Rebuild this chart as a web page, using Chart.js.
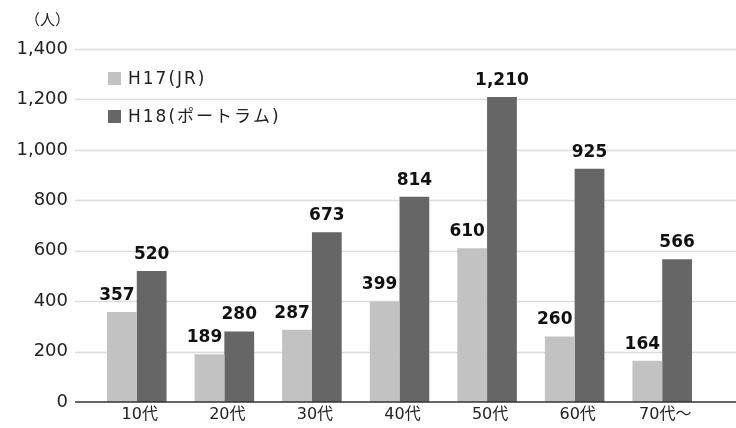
<!DOCTYPE html>
<html>
<head>
<meta charset="utf-8">
<title>年代別利用者数</title>
<script src="https://cdn.jsdelivr.net/npm/chart.js@4"></script>
<style>
  html, body { margin: 0; padding: 0; background: #fff; }
  #wrap { position: relative; width: 736px; height: 428px; }
  #myChart { display: block; }
  #unit { position: absolute; left: 25px; top: 8px; font: 15px "Noto Sans CJK JP", sans-serif; color: #222; }
</style>
</head>
<body>
<div id="wrap">
  <div id="unit">（人）</div>
  <canvas id="myChart" width="736" height="428"></canvas>
</div>
<script>
// data
const ageGroups = ["10代", "20代", "30代", "40代", "50代", "60代", "70代～"];
const h17Values = [357, 189, 287, 399, 610, 260, 164];
const h18Values = [520, 280, 673, 814, 1210, 925, 566];
const seriesNames = ["H17(JR)", "H18(ポートラム)"];
const yTicks = [0, 200, 400, 600, 800, 1000, 1200, 1400];

const FONT = '"DejaVu Sans", "Noto Sans CJK JP", sans-serif';

// axes are hidden so the plot box is set only by the padding;
// gridlines, tick labels, value labels and legend are drawn here
const drawPlugin = {
  id: 'drawExtras',
  beforeDatasetsDraw(chart) {
    const ctx = chart.ctx, y = chart.scales.y, x = chart.scales.x;
    const left = chart.chartArea.left - 18;
    ctx.save();
    ctx.strokeStyle = '#dcdcdc';
    ctx.lineWidth = 1.5;
    yTicks.forEach(v => {
      if (v === 0) return;
      const py = Math.round(y.getPixelForValue(v)) + 0.5;
      ctx.beginPath();
      ctx.moveTo(left, py);
      ctx.lineTo(chart.width, py);
      ctx.stroke();
    });
    // y tick labels
    ctx.fillStyle = '#222';
    ctx.font = '18px ' + FONT;
    ctx.textAlign = 'right';
    ctx.textBaseline = 'middle';
    yTicks.forEach(v => {
      ctx.fillText(v.toLocaleString('en-US'), left - 7, y.getPixelForValue(v));
    });
    // x tick labels
    ctx.font = '16px ' + FONT;
    ctx.textAlign = 'center';
    ageGroups.forEach((lab, i) => {
      ctx.fillText(lab, x.getPixelForTick(i) + 3, chart.chartArea.bottom + 13);
    });
    ctx.restore();
  },
  afterDatasetsDraw(chart) {
    const ctx = chart.ctx, y = chart.scales.y;
    ctx.save();
    // zero line
    const py0 = y.getPixelForValue(0);
    ctx.strokeStyle = '#333';
    ctx.lineWidth = 1.5;
    ctx.beginPath();
    ctx.moveTo(chart.chartArea.left - 18, py0);
    ctx.lineTo(chart.width, py0);
    ctx.stroke();

    // value labels over the bars
    ctx.fillStyle = '#111';
    ctx.font = 'bold 17px ' + FONT;
    ctx.textAlign = 'center';
    ctx.textBaseline = 'bottom';
    chart.data.datasets.forEach((ds, i) => {
      chart.getDatasetMeta(i).data.forEach((bar, j) => {
        ctx.fillText(ds.data[j].toLocaleString('en-US'), bar.x - (i === 0 ? 5 : 0), bar.y - 8);
      });
    });

    // legend inside the plot
    ctx.font = '17px ' + FONT;
    ctx.textAlign = 'left';
    ctx.textBaseline = 'middle';
    ctx.letterSpacing = '2px';
    chart.data.datasets.forEach((ds, i) => {
      const top = 72 + i * 38;
      ctx.fillStyle = ds.backgroundColor;
      ctx.fillRect(108, top, 13, 13);
      ctx.fillStyle = '#222';
      ctx.fillText(ds.label, 128, top + 8);
    });
    ctx.restore();
  }
};

function doChart() {
  const ctx = document.getElementById('myChart').getContext('2d');
  new Chart(ctx, {
    type: 'bar',
    data: {
      labels: ageGroups,
      datasets: [
        { label: seriesNames[0], data: h17Values, backgroundColor: '#c1c2c1' },
        { label: seriesNames[1], data: h18Values, backgroundColor: '#666666' }
      ]
    },
    options: {
      responsive: false,
      animation: false,
      layout: { padding: { top: 49, right: 30, left: 93, bottom: 26 } },
      categoryPercentage: 0.68,
      barPercentage: 1.0,
      plugins: { legend: { display: false }, tooltip: { enabled: false } },
      scales: {
        x: { display: false },
        y: { display: false, min: 0, max: 1400 }
      }
    },
    plugins: [drawPlugin]
  });
}

doChart();
</script>
</body>
</html>
